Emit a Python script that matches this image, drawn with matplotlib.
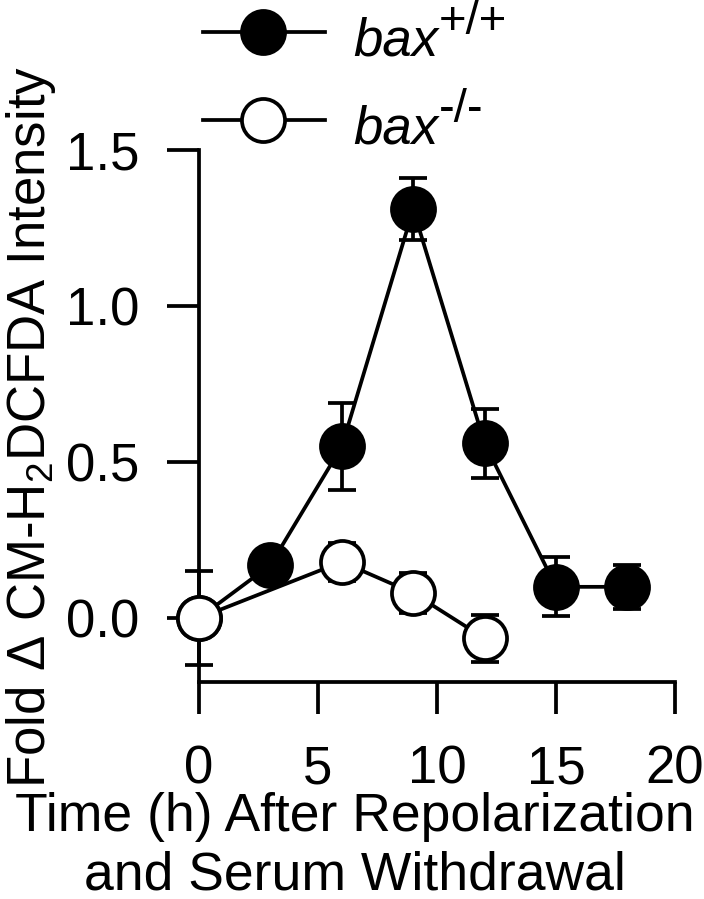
import matplotlib
matplotlib.use("Agg")
import matplotlib.pyplot as plt
from matplotlib.lines import Line2D

plt.rcParams['font.family'] = ['Liberation Sans', 'DejaVu Sans']
plt.rcParams['mathtext.fontset'] = 'custom'
plt.rcParams['mathtext.rm'] = 'Liberation Sans'
plt.rcParams['mathtext.it'] = 'Liberation Sans:italic'

# bax +/+ (filled)
wt_time = [0, 3, 6, 9, 12, 15, 18]
wt_mean = [0.0, 0.17, 0.55, 1.31, 0.56, 0.10, 0.10]
wt_err = [0.0, 0.02, 0.14, 0.10, 0.11, 0.095, 0.07]

# bax -/- (open)
ko_time = [0, 6, 9, 12]
ko_mean = [0.0, 0.18, 0.08, -0.065]
ko_err = [0.15, 0.06, 0.065, 0.075]

x_ticks = [0, 5, 10, 15, 20]
y_ticks = [0.0, 0.5, 1.0, 1.5]

W, H = 704, 899
FS = 38
LW = 2.7
MS = 31


def fx(px):
    return px / W


def fy(py):
    return 1 - py / H


fig = plt.figure(figsize=(W / 100, H / 100), dpi=100)
ax = fig.add_axes([fx(199), fy(682), 476 / W, 532 / H])

ax.errorbar(wt_time, wt_mean, yerr=wt_err, fmt='none', ecolor='black',
            elinewidth=LW, capsize=10, capthick=LW, zorder=2, clip_on=False)
ax.plot(wt_time, wt_mean, '-o', color='black', lw=LW, ms=MS,
        mfc='black', mec='black', mew=LW, zorder=3, clip_on=False)

ax.errorbar(ko_time, ko_mean, yerr=ko_err, fmt='none', ecolor='black',
            elinewidth=LW, capsize=10, capthick=LW, zorder=4, clip_on=False)
ax.plot(ko_time, ko_mean, '-o', color='black', lw=LW, ms=MS,
        mfc='white', mec='black', mew=LW, zorder=5, clip_on=False)

ax.set_xlim(0, 20)
ax.set_ylim(-0.205, 1.5)
ax.set_xticks(x_ticks)
ax.set_yticks(y_ticks)
ax.set_yticklabels(['%.1f' % v for v in y_ticks])

for side in ['top', 'right']:
    ax.spines[side].set_visible(False)
for side in ['left', 'bottom']:
    ax.spines[side].set_linewidth(LW)

ax.tick_params(axis='both', direction='out', length=23, width=LW, labelsize=FS)
ax.tick_params(axis='x', pad=22)
ax.tick_params(axis='y', pad=20)

fig.text(fx(355), fy(889), 'Time (h) After Repolarization\nand Serum Withdrawal',
         ha='center', va='baseline', fontsize=38.5, linespacing=1.2)
fig.text(fx(31), fy(427), r'Fold $\Delta$ CM-H$_2$DCFDA Intensity',
         rotation=90, ha='center', va='center', fontsize=FS)

# legend drawn by hand, above the axes
legend_rows = [
    ('black', 32, 55, '+/+'),
    ('white', 120, 143, '-/-'),
]
for face, y_mark, y_base, sup in legend_rows:
    fig.add_artist(Line2D([fx(203), fx(325)], [fy(y_mark)] * 2, color='black', lw=LW))
    fig.add_artist(Line2D([fx(263)], [fy(y_mark)], marker='o', ms=MS, mfc=face,
                          mec='black', mew=LW, lw=0))
    fig.text(fx(353), fy(y_base), 'bax', style='italic', fontsize=FS, va='baseline')
    fig.text(fx(439), fy(y_base - 21), sup, fontsize=34, va='baseline')

fig.savefig('out.png', dpi=100)
